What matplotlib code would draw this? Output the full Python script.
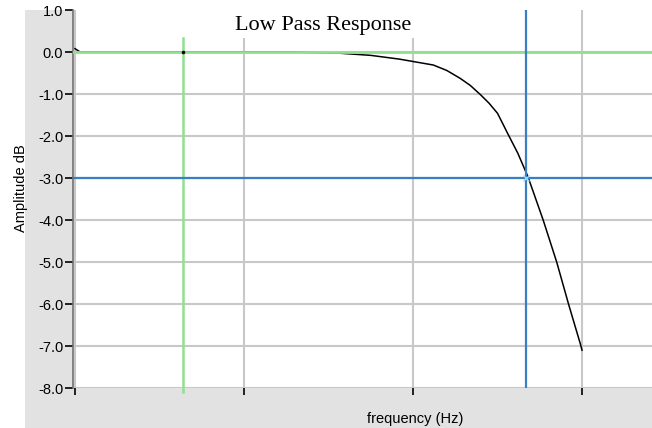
import matplotlib
matplotlib.use("Agg")
import matplotlib.pyplot as plt
from matplotlib.patches import Rectangle
import numpy as np

# curve points (frequency in grid units, amplitude in dB)
freq = [0.0, 0.03, 0.64, 1.27, 1.57, 1.75, 1.92, 2.12, 2.20, 2.28, 2.34, 2.40, 2.45,
        2.50, 2.56, 2.62, 2.68, 2.77, 2.85, 2.92, 2.99, 3.0]
amp_db = [0.08, 0.0, 0.0, 0.0, -0.03, -0.08, -0.17, -0.31, -0.44, -0.63, -0.80, -1.02,
          -1.22, -1.46, -1.94, -2.41, -2.97, -4.0, -5.0, -6.0, -6.95, -7.1]

pass_freq = 0.64      # green marker
cutoff_freq = 2.67    # blue marker (-3 dB)
cutoff_db = -3.0
y_ticks = [1.0, 0.0, -1.0, -2.0, -3.0, -4.0, -5.0, -6.0, -7.0, -8.0]
x_ticks = [0, 1, 2, 3]

fig = plt.figure(figsize=(6.52, 4.28), dpi=100, facecolor="white")
# grey panel behind the axes
fig.patches.append(Rectangle((25 / 652, 0), 1, 418 / 428, transform=fig.transFigure,
                             facecolor="#e2e2e2", edgecolor="none", zorder=-10))

ax = fig.add_axes([73 / 652, 1 - 388 / 428, 1 - 73 / 652, 378 / 428])
ax.set_facecolor("white")
ax.set_xlim(-0.012, 3.414)
ax.set_ylim(-8.0, 1.0)

for s in ["top", "right", "bottom"]:
    ax.spines[s].set_visible(False)
ax.spines["left"].set_color("#707070")
ax.spines["left"].set_linewidth(1.2)

ax.set_yticks(y_ticks)
ax.set_yticklabels(["%.1f" % v for v in y_ticks])
ax.set_xticks(x_ticks)
ax.set_xticklabels([])
ax.tick_params(axis="y", direction="out", length=6, width=1.2, color="black",
               labelsize=10.5, pad=1)
ax.tick_params(axis="x", direction="out", length=5, width=1.2, color="black", pad=2)
for lab in ax.get_yticklabels():
    lab.set_family("Liberation Sans")

ax.grid(True, color="#c8c8c8", linewidth=1.5, zorder=1)
ax.set_axisbelow(True)
ax.yaxis.get_gridlines()[0].set_visible(False)  # no line along the top edge

# white box behind the title hides the top of the grid
ax.add_patch(Rectangle((0.133, 0.926), 0.553, 0.08, transform=ax.transAxes,
                       facecolor="white", edgecolor="none", zorder=1.5))

ax.plot(freq, amp_db, color="black", linewidth=1.1, zorder=2)

ax.axhline(0.0, color="#90e090", linewidth=2, zorder=3)
ax.plot([pass_freq, pass_freq], [-8.1, 0.33], color="#90e090", linewidth=1.8,
        zorder=3, clip_on=False)
ax.plot([pass_freq], [0.0], marker=".", color="black", markersize=3, zorder=4)

ax.axhline(cutoff_db, color="#3a7fc4", linewidth=1.6, zorder=3)
ax.axvline(cutoff_freq, color="#3a7fc4", linewidth=1.6, zorder=3)
ax.plot([cutoff_freq], [cutoff_db], marker="x", color="#a0d8f0", markersize=5,
        markeredgewidth=1, zorder=4)

ax.text(0.432, 0.985, "Low Pass Response", transform=ax.transAxes,
        ha="center", va="top", family="Liberation Serif", fontsize=16, zorder=5)

ax.set_xlabel("frequency (Hz)", family="Liberation Sans", fontsize=10.5)
ax.xaxis.set_label_coords(0.591, -0.063)
ax.set_ylabel("Amplitude dB", family="Liberation Sans", fontsize=10.5)
ax.yaxis.set_label_coords(-0.078, 0.53)

fig.savefig("out.png", dpi=100, facecolor=fig.get_facecolor())
